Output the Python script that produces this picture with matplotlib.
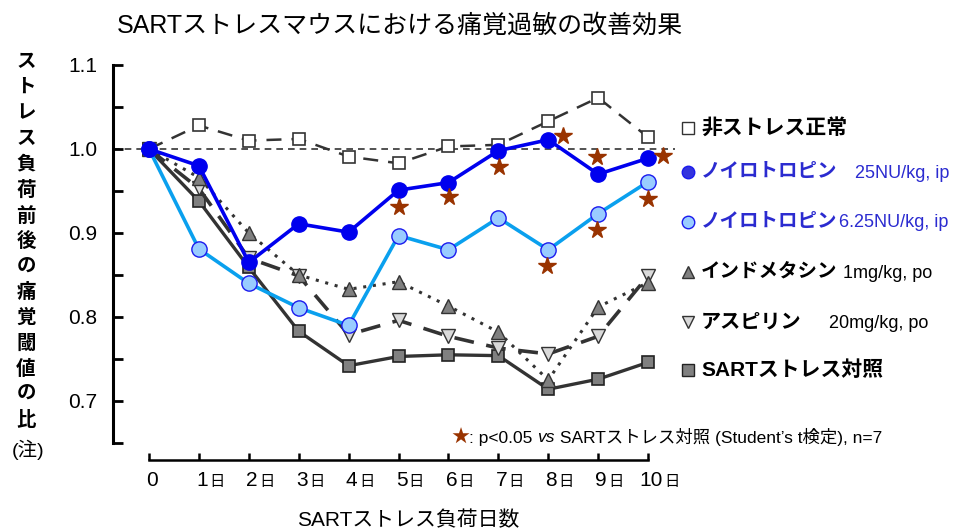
import matplotlib
matplotlib.use('Agg')
import matplotlib.pyplot as plt
import matplotlib.transforms as mtransforms
from matplotlib.lines import Line2D

plt.rcParams['font.family'] = ['Liberation Sans', 'Noto Sans CJK JP', 'DejaVu Sans']

# Data (ratio of pain threshold after / before stress)
days = [0, 1, 2, 3, 4, 5, 6, 7, 8, 9, 10]
normal = [1.0, 1.028, 1.010, 1.012, 0.991, 0.983, 1.003, 1.005, 1.033, 1.061, 1.014]
neuro25 = [1.0, 0.980, 0.865, 0.911, 0.901, 0.951, 0.960, 0.998, 1.011, 0.970, 0.989]
neuro625 = [1.0, 0.881, 0.840, 0.811, 0.790, 0.897, 0.880, 0.918, 0.880, 0.923, 0.961]
indometacin = [1.0, 0.966, 0.900, 0.850, 0.833, 0.842, 0.813, 0.782, 0.725, 0.812, 0.841]
aspirin = [1.0, 0.953, 0.870, 0.849, 0.779, 0.796, 0.777, 0.763, 0.756, 0.777, 0.849]
sart = [1.0, 0.938, 0.859, 0.783, 0.742, 0.753, 0.755, 0.754, 0.714, 0.726, 0.746]

# significance stars (p<0.05 vs SART control)
star_x = [5.01, 6.01, 7.01, 8.30, 8.98, 10.30, 10.0, 8.98, 7.98]
star_y = [0.931, 0.943, 0.979, 1.015, 0.990, 0.992, 0.940, 0.904, 0.861]

yticks = [0.7, 0.8, 0.9, 1.0, 1.1]
yminor = [0.65, 0.75, 0.85, 0.95, 1.05]

title = 'SARTストレスマウスにおける痛覚過敏の改善効果'
ylabel_chars = 'ストレス負荷前後の痛覚閾値の比'
xlabel = 'SARTストレス負荷日数'

W, H = 959, 531


def fx(px):
    return px / W


def fy(py):
    return 1 - py / H


fig = plt.figure(figsize=(W / 100, H / 100), dpi=100)
ax = fig.add_axes([fx(112.7), fy(443), 587.3 / W, 378 / H])
ax.set_xlim(-0.727, 11.04)
ax.set_ylim(0.65, 1.1)
ax.patch.set_visible(False)

dark = '#333333'
blue = '#0000EE'
ltblue = '#0AA0EE'
brown = '#993300'

# reference line at 1.0
ax.plot([-0.727, 10.53], [1.0, 1.0], color=dark, lw=1.2, dashes=(4, 3), clip_on=False, zorder=1)

ax.plot(days, normal, color=dark, lw=1.8, dashes=(6, 4), marker='s', ms=9,
        mfc='white', mec=dark, mew=1.2, clip_on=False, zorder=2)
ax.plot(days, sart, color=dark, lw=2.4, marker='s', ms=9,
        mfc='#808080', mec='#222222', mew=1.2, clip_on=False, zorder=3)
ax.plot(days, aspirin, color=dark, lw=2.6, dashes=(5.5, 3.5), marker='v', ms=10,
        mfc='#D9D9D9', mec=dark, mew=1.0, clip_on=False, zorder=4)
ax.plot(days, indometacin, color=dark, lw=2.2, dashes=(1, 2.2), marker='^', ms=10,
        mfc='#808080', mec=dark, mew=1.0, clip_on=False, zorder=5)
ax.plot(days, neuro625, color=ltblue, lw=2.6, marker='o', ms=11,
        mfc='#99CCFF', mec='#1A1AEE', mew=1.0, clip_on=False, zorder=6)
ax.plot(days, neuro25, color=blue, lw=2.6, marker='o', ms=11,
        mfc=blue, mec=blue, clip_on=False, zorder=7)
ax.plot(star_x, star_y, ls='none', marker='*', ms=13, color=brown, clip_on=False, zorder=8)

# axes
for s in ['top', 'right']:
    ax.spines[s].set_visible(False)
ax.spines['left'].set_bounds(0.65, 1.1)
ax.spines['left'].set_linewidth(2.2)
ax.spines['bottom'].set_position(('outward', 12.2))
ax.spines['bottom'].set_bounds(0, 10)
ax.spines['bottom'].set_linewidth(1.8)

ax.set_yticks(yticks)
ax.set_yticklabels([f'{v:.1f}' for v in yticks])
ax.set_yticks(yminor, minor=True)
ax.tick_params(axis='y', which='both', direction='in', length=7, width=2,
               labelsize=15, pad=11)
ax.set_xticks(days)
ax.set_xticklabels([])
ax.tick_params(axis='x', direction='in', length=5, width=1.8)

# x tick labels: digit + small 日
trans = mtransforms.blended_transform_factory(ax.transData, fig.transFigure)
for d in days:
    t = ax.text(d + 0.06, fy(481), str(d), transform=trans, ha='center', va='center', fontsize=15)
    if d > 0:
        ax.annotate('日', xy=(1, 0.1), xycoords=t, xytext=(1, 0), textcoords='offset points',
                    ha='left', va='bottom', fontsize=11)

fig.text(fx(408), fy(520), xlabel, ha='center', va='center', fontsize=15)
fig.text(fx(400), fy(26), title, ha='center', va='center', fontsize=18)

# vertical y label
for i, ch in enumerate(ylabel_chars):
    fig.text(fx(26), fy(63 + 25.5 * i), ch, ha='center', va='center', fontsize=14, fontweight='bold')
fig.text(fx(28), fy(450), '(注)', ha='center', va='center', fontsize=14)

# legend
leg_y = [128, 172, 222, 272, 322, 370]
leg_names = ['非ストレス正常', 'ノイロトロピン', 'ノイロトロピン', 'インドメタシン', 'アスピリン', 'SARTストレス対照']
leg_sizes = [15, 14, 14, 14, 14.5, 15]
leg_doses = ['', '25NU/kg, ip', '6.25NU/kg, ip', '1mg/kg, po', '20mg/kg, po', '']
leg_dose_x = [0, 855, 839, 843, 829, 0]
leg_colors = ['black', '#2B2BD0', '#2B2BD0', 'black', 'black', 'black']
leg_markers = [('s', 'white', dark, 8), ('o', '#3333DD', '#1A1AEE', 9), ('o', '#99CCFF', '#1A1AEE', 9),
               ('^', '#808080', dark, 9), ('v', '#D9D9D9', dark, 9), ('s', '#808080', '#222222', 8)]
for y, name, fs, dose, dx, c, (m, fc, ec, ms) in zip(leg_y, leg_names, leg_sizes, leg_doses, leg_dose_x,
                                                     leg_colors, leg_markers):
    fig.add_artist(Line2D([fx(688)], [fy(y)], transform=fig.transFigure, marker=m, ms=ms,
                          mfc=fc, mec=ec, mew=1.0, ls='none'))
    fig.text(fx(701), fy(y), name, ha='left', va='center', fontsize=fs, fontweight='bold', color=c)
    if dose:
        fig.text(fx(dx), fy(y + 1), dose, ha='left', va='center', fontsize=13, color=c)

# footnote
t1 = fig.text(fx(451), fy(437), '★', ha='left', va='center', fontsize=13, color=brown)
t2 = ax.annotate(': p<0.05 ', xy=(1, 0), xycoords=t1, ha='left', va='bottom', fontsize=12.5)
t3 = ax.annotate('vs', xy=(1, 0), xycoords=t2, ha='left', va='bottom', fontsize=12.5, style='italic')
ax.annotate(' SARTストレス対照 (Student’s t検定), n=7', xy=(1, 0), xycoords=t3,
            ha='left', va='bottom', fontsize=12.5)

fig.savefig('out.png', dpi=100)
